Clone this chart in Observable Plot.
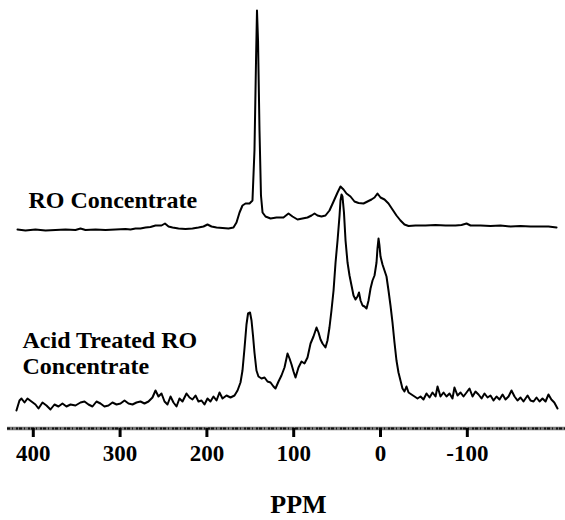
<!DOCTYPE html>
<html>
<head>
<meta charset="utf-8">
<script src="https://cdn.jsdelivr.net/npm/d3@7"></script>
<script src="https://cdn.jsdelivr.net/npm/@observablehq/plot@0.6"></script>
<style>
  html, body { margin: 0; padding: 0; background: #fff; }
  #chart svg { display: block; }
</style>
</head>
<body>
<div id="chart"></div>
<script>
// ---- data ----
const roPpm = [418.2,409.0,397.5,385.9,374.4,362.9,351.4,345.6,339.9,328.3,316.8,305.3,293.8,288.0,282.3,276.5,270.7,265.0,259.2,252.3,248.3,244.2,239.6,232.7,224.7,216.6,209.7,203.9,199.3,194.7,188.9,182.0,175.1,169.4,165.9,162.4,159.0,155.5,150.9,147.5,145.2,143.4,142.3,141.1,139.4,137.7,135.9,132.5,126.7,119.8,111.8,106.0,101.4,95.6,89.9,84.1,79.5,76.0,72.6,68.0,63.4,58.8,54.1,49.5,46.1,42.6,39.2,34.6,30.0,25.3,19.6,15.0,10.4,6.9,3.5,0,-4.6,-9.2,-13.8,-18.4,-23.0,-27.6,-32.3,-40.3,-51.8,-63.4,-74.9,-86.4,-93.3,-99.1,-103.7,-115.2,-126.7,-138.2,-149.8,-161.3,-172.8,-184.3,-193.5,-202.8];
const roIntensity = [1,0,1,0,0.5,1,0.5,2,0.5,1,0.5,1,1.5,1,2,2,3,3.5,5,5,7,4,3,2,1.5,2,3,4,6,4,3,2.5,2,3,8,18,25,27,27,30,80,170,220,190,100,35,18,14,12,13,13,17,14,11,12,13,15,17,15,14,15,20,29,38,44,41,37,34,29,27.5,27,29,31,33,37,33,31,27,21,15,10,6,4.5,5,5,5.5,5,5,5.5,7,5,5,4.5,5,4,4.5,4,4,4,3];

const acidPpm = [419.4,415.9,413.6,410.1,406.7,402.1,397.5,394.0,389.4,384.8,380.2,375.6,371.0,366.4,361.8,357.1,351.4,345.6,341.0,336.4,331.8,327.2,322.6,318.0,313.4,308.8,304.1,299.5,294.9,290.3,285.7,281.1,276.5,271.9,267.3,262.7,259.2,255.8,252.3,248.8,245.4,241.9,238.5,235.0,231.6,228.1,223.5,220.0,216.6,213.1,209.7,206.2,202.8,199.3,195.9,192.4,188.9,185.5,182.0,177.4,172.8,168.2,164.7,161.3,159.0,156.7,154.4,152.6,150.3,148.6,146.9,145.2,142.9,140.6,137.1,133.6,130.2,126.7,123.3,121.0,117.5,114.1,110.6,107.1,104.8,102.5,100.2,97.9,94.5,91.0,87.6,84.1,80.6,77.2,73.7,71.4,69.1,66.8,63.4,61.1,58.8,56.5,54.1,51.8,49.5,47.2,46.1,44.9,43.8,42.1,40.3,38.0,35.7,33.4,31.1,28.8,26.5,24.8,23.0,20.7,18.4,16.1,13.8,11.5,9.2,6.9,4.6,3.5,2.3,1.2,0,-2.3,-4.6,-6.9,-9.2,-11.5,-13.8,-16.1,-18.4,-20.7,-23.0,-25.3,-27.6,-29.9,-32.3,-35.7,-39.2,-42.6,-46.1,-49.5,-53.0,-56.5,-59.9,-63.4,-65.7,-69.1,-72.6,-76.0,-79.5,-82.9,-85.2,-88.7,-92.2,-95.6,-99.1,-102.5,-106.0,-109.4,-112.9,-116.4,-119.8,-123.3,-126.7,-130.2,-133.6,-137.1,-140.6,-144.0,-147.5,-150.9,-154.4,-157.8,-161.3,-164.7,-169.4,-172.8,-176.3,-179.7,-183.2,-186.6,-190.1,-193.5,-196.8,-200.2,-203.9];
const acidIntensity = [0,10,12,8,12,9,6,2,8,5,1,6,4,7,4,6,5,8,9,6,4,9,7,4,5,8,6,7,10,7,6,8,9,7,9,13,20,14,17,9,6,14,8,4,12,9,17,13,11,15,9,10,6,12,9,14,10,18,12,15,13,15,20,28,40,62,86,97,98,90,75,58,40,34,32,33,29,28,24,22,29,35,43,57,52,46,39,33,43,49,47,53,67,74,83,78,71,67,63,70,83,100,120,148,170,195,210,216,214,198,170,148,135,125,115,111,114,118,110,105,104,102,110,122,130,135,148,162,172,165,154,146,140,134,120,105,88,68,50,38,30,22,19,24,18,16,14,12,14,11,17,13,18,14,24,14,18,14,17,12,23,15,18,14,18,22,14,19,16,12,17,13,15,10,14,11,16,11,14,20,14,10,13,9,15,10,9,13,9,12,9,16,11,8,2];

const seriesNames = ["RO Concentrate", "Acid Treated RO\nConcentrate"];
const seriesOffsets = [198, 18];          // vertical stacking of the two spectra
const tickValues = [400, 300, 200, 100, 0, -100];
const axisTitle = "PPM";

// ---- build tables ----
const ro = roPpm.map((p, i) => ({ppm: p, v: roIntensity[i] + seriesOffsets[0]}));
const acid = acidPpm.map((p, i) => ({ppm: p, v: acidIntensity[i] + seriesOffsets[1]}));

const font = "'Liberation Serif', 'Times New Roman', serif";

const chart = Plot.plot({
  width: 565,
  height: 520,
  marginTop: 8,
  marginBottom: 92,
  marginLeft: 7,
  marginRight: 0,
  style: {fontFamily: font, background: "#fff", color: "#000"},
  x: {domain: [429.7, -213.1]},
  y: {domain: [0, 420], axis: null},
  marks: [
    Plot.line(ro, {x: "ppm", y: "v", stroke: "#000", strokeWidth: 2, strokeLinejoin: "round"}),
    Plot.line(acid, {x: "ppm", y: "v", stroke: "#000", strokeWidth: 2, strokeLinejoin: "round"}),
    // axis band (textured bar)
    Plot.ruleY([0], {stroke: "#777", strokeWidth: 3.5}),
    Plot.ruleY([0], {stroke: "#111", strokeWidth: 2, strokeDasharray: "3,2,1,3,2,1"}),
    Plot.axisX({
      ticks: tickValues,
      tickFormat: d => String(d),
      tickSize: 9,
      tickPadding: 7,
      strokeWidth: 3,
      stroke: "#000",
      fontSize: 23,
      fontWeight: "bold",
      fontFamily: font,
      fill: "#000",
      label: null
    }),
    Plot.text([seriesNames[0]], {
      x: 405.5, y: 221, text: d => d,
      textAnchor: "start", lineAnchor: "bottom",
      fontSize: 24, fontWeight: "bold", fontFamily: font, fill: "#000"
    }),
    Plot.text([seriesNames[1]], {
      x: 412.4, y: 55, text: d => d,
      textAnchor: "start", lineAnchor: "bottom", lineHeight: 1.05,
      fontSize: 24, fontWeight: "bold", fontFamily: font, fill: "#000"
    }),
    Plot.text([axisTitle], {
      x: 94.5, y: -84, text: d => d,
      textAnchor: "middle", lineAnchor: "bottom",
      fontSize: 26, fontWeight: "bold", fontFamily: font, fill: "#000"
    })
  ]
});

document.getElementById("chart").appendChild(chart);
</script>
</body>
</html>
